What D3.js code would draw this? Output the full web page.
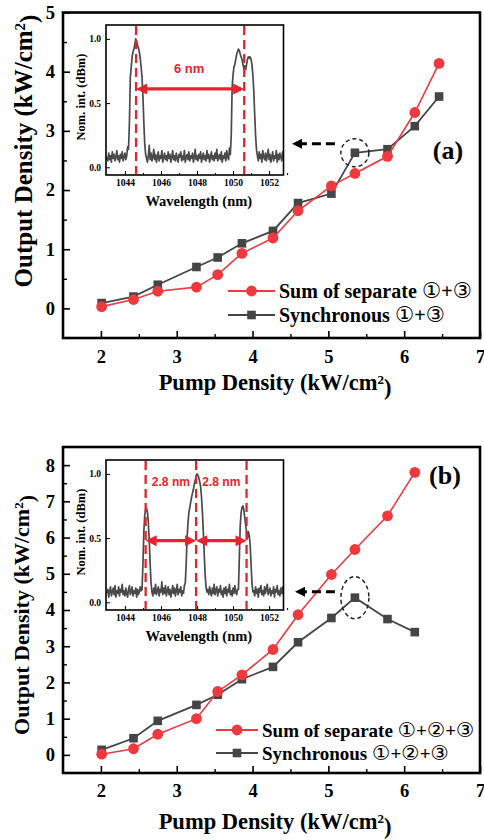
<!DOCTYPE html>
<html>
<head>
<meta charset="utf-8">
<script src="https://cdn.jsdelivr.net/npm/d3@7"></script>
<style>
  html, body { margin: 0; padding: 0; background: #fff; }
  svg { display: block; }
</style>
</head>
<body>
<svg id="fig" width="484" height="840"></svg>
<script>
// ---------- data ----------
// Panel (a): two-wavelength operation
const pumpA = [2.01, 2.43, 2.75, 3.26, 3.54, 3.86, 4.27, 4.60, 5.04, 5.35, 5.78, 6.14, 6.46];
const sumA  = [0.03, 0.15, 0.29, 0.36, 0.57, 0.93, 1.19, 1.65, 2.07, 2.28, 2.57, 3.31, 4.14];
const syncA = [0.09, 0.20, 0.40, 0.70, 0.86, 1.10, 1.31, 1.78, 1.94, 2.63, 2.69, 3.08, 3.58];

// Panel (b): three-wavelength operation
const pumpB = [2.01, 2.43, 2.75, 3.26, 3.54, 3.86, 4.27, 4.60, 5.04, 5.35, 5.78, 6.14];
const sumB  = [0.02, 0.17, 0.57, 1.00, 1.75, 2.21, 2.91, 3.87, 4.98, 5.67, 6.60, 7.80];
const syncB = [0.14, 0.46, 0.94, 1.38, 1.66, 2.09, 2.43, 3.11, 3.78, 4.34, 3.75, 3.39];

const xTicks  = [2, 3, 4, 5, 6, 7];
const yTicksA = [0, 1, 2, 3, 4, 5];
const yTicksB = [0, 1, 2, 3, 4, 5, 6, 7, 8];

const legendA = ["Sum of separate \u2460+\u2462", "Synchronous \u2460+\u2462"];
const legendB = ["Sum of separate \u2460+\u2461+\u2462", "Synchronous \u2460+\u2461+\u2462"];

// Inset spectra: normalised intensity sampled every 0.05 nm from 1043.00 nm
const wlStart = 1043.0, wlStep = 0.05;
const spectrumA = [
  .08,.05,.11,.06,.09,.04,.12,.07,.10,.05,.08,.13,.06,.09,.04,.10,.07,.12,.05,.08,.11,.06,.09,.16,
  .14,
  .35,.70,.78,.86,.90,.92,.96,1.0,.98,.95,.93,.90,.85,.78,.70,.55,.35,.18,
  .10,
  .07,.04,.09,.17,.06,.11,.05,.08,.14,.06,
  .10,.04,.08,.12,.05,.09,.07,.13,.04,.08,
  .11,.06,.09,.05,.12,.07,.10,.04,.08,.13,
  .06,.09,.05,.11,.07,.04,.10,.08,.12,.05,
  .09,.06,.13,.04,.08,.10,.06,.12,.05,.09,
  .07,.11,.04,.08,.14,.06,.09,.05,.10,.07,
  .12,.04,.08,.11,.06,.09,.05,.13,.07,.10,
  .04,.08,.12,.06,.09,.05,.11,.07,.14,.05,
  .08,.10,.06,.12,.04,.09,.07,.11,.05,.13,
  .08,.06,.15,.10,
  .25,
  .62,.72,.78,.80,.84,.88,.90,.92,.91,.88,.86,.84,.80,.77,.79,.76,.80,.84,.86,.85,.86,.84,.80,.72,.60,.42,.25,.14,
  .09,.05,.12,.07,.10,.04,.13,.08,.06,.11,
  .05,.09,.14,.06,.10,.04,.08,.12,.05,.09,
  .07,.13,.04,.10,.06,.11,.08,.05,.12,.07,
  .15,.06,.09
];
const spectrumB = [
  .07,.10,.04,.09,.12,.05,.08,.11,.06,.13,
  .04,.09,.07,.12,.05,.10,.08,.14,.06,.09,
  .05,.11,.07,.04,.10,.13,.06,.08,.12,.05,
  .09,.07,.11,.04,.10,.06,.08,.12,.09,
  .10,.30,.55,.68,.72,.73,.70,.62,.48,.30,.15,.08,
  .05,.11,.07,.14,.06,.09,.12,.05,.10,.08,
  .16,.06,.11,.07,.13,.05,.09,.12,.06,.10,
  .04,.08,.13,.07,.11,.05,.09,.14,.06,.10,
  .08,.12,.05,.09,.07,.13,
  .15,.30,.50,.62,.70,.74,.78,.82,.85,.88,.92,.95,.98,1.0,.99,.97,.94,.90,.82,.70,.55,.38,.22,.12,.08,
  .10,.06,.12,.08,.05,.11,.07,.14,.06,.09,
  .12,.05,.10,.08,.13,.06,.09,.04,.11,.07,
  .12,.05,.10,.08,.14,.06,.09,.05,.11,.07,
  .13,.08,.06,.10,
  .10,.35,.60,.70,.74,.75,.72,.66,.60,.55,.50,.55,.52,.45,.30,.15,.08,
  .09,.05,.12,.07,.10,.04,.11,.08,.13,.06,
  .09,.05,.12,.07,.10,.14,.06,.08,.11,.05,
  .09,.07,.12,.04,.10,.08,.13,.06,.09,.05,
  .11,.07,.12,.06,.10,.08,.12
];
const specXTicks = [1044, 1046, 1048, 1050, 1052];
const specYTicks = [0, 0.5, 1.0];
const peakLinesA = [1044.62, 1050.62];
const peakLinesB = [1045.15, 1047.95, 1050.75];
const spacingLabelsA = ["6 nm"];
const spacingLabelsB = ["2.8 nm", "2.8 nm"];

// ---------- styling ----------
const SERIF = "'Liberation Serif','Times New Roman',Times,serif";
const SANS = "'Liberation Sans',Arial,Helvetica,sans-serif";
const SYMBOL = "'DejaVu Sans','Noto Sans',sans-serif";
const RED = "#EE3A3F";
const GREY = "#454545";
const DASH_RED = "#E8232B";

const svg = d3.select("#fig");
svg.append("rect").attr("width", 484).attr("height", 840).attr("fill", "#fff");

function styleTickText(sel, size) {
  sel.selectAll("text")
    .style("font-family", SERIF).style("font-weight", "bold")
    .style("font-size", size + "px").attr("fill", "#000");
}

// legend strings: serif words, circled numerals set in a font with outlined glyphs
function writeRuns(textSel, str, size) {
  str.split(/([\u2460-\u2473])/).filter(s => s.length).forEach(run => {
    const isSym = /[\u2460-\u2473]/.test(run);
    textSel.append("tspan").text(run)
      .style("font-family", isSym ? SYMBOL : SERIF)
      .style("font-weight", isSym ? "normal" : "bold")
      .style("font-size", (isSym ? size * 1.08 : size) + "px");
  });
}

function drawPanel(cfg) {
  const g = svg.append("g");
  const x = d3.scaleLinear().domain([1.5, 7]).range([63, 480]);
  const y = d3.scaleLinear().domain(cfg.yDomain).range(cfg.yRange);
  const [bottom, top] = cfg.yRange;

  // axes (ticks pointing inward)
  const gx = g.append("g").attr("transform", `translate(0,${bottom})`)
    .call(d3.axisBottom(x).tickValues(xTicks).tickSize(-7).tickPadding(cfg.xTickPad).tickFormat(d3.format("d")));
  gx.select(".domain").remove();
  gx.selectAll("line").attr("stroke-width", 1.6);
  styleTickText(gx, 18.5);
  const gxm = g.append("g").attr("transform", `translate(0,${bottom})`)
    .call(d3.axisBottom(x).tickValues(xTicks.slice(0, -1).map(v => v + 0.5)).tickSize(-4).tickFormat(""));
  gxm.select(".domain").remove();
  gxm.selectAll("line").attr("stroke-width", 1.4);

  const gy = g.append("g").attr("transform", "translate(63,0)")
    .call(d3.axisLeft(y).tickValues(cfg.yTicks).tickSize(-7).tickPadding(8).tickFormat(d3.format("d")));
  gy.select(".domain").remove();
  gy.selectAll("line").attr("stroke-width", 1.6);
  styleTickText(gy, 18.5);
  const gym = g.append("g").attr("transform", "translate(63,0)")
    .call(d3.axisLeft(y).tickValues(cfg.yTicks.slice(0, -1).map(v => v + 0.5)).tickSize(-4).tickFormat(""));
  gym.select(".domain").remove();
  gym.selectAll("line").attr("stroke-width", 1.4);

  // frame
  g.append("rect").attr("x", 63).attr("y", top).attr("width", 417).attr("height", bottom - top)
    .attr("fill", "none").attr("stroke", "#000").attr("stroke-width", 2.6);

  // axis titles
  const xt = g.append("text").attr("x", 275).attr("y", cfg.xTitleY).attr("text-anchor", "middle")
    .style("font-family", SERIF).style("font-weight", "bold").style("font-size", "22.5px");
  xt.append("tspan").text("Pump Density (kW/cm");
  xt.append("tspan").attr("dy", "-0.5em").style("font-size", "13px").text("2");
  xt.append("tspan").attr("dy", "0.5em").text(")");

  const yt = g.append("text")
    .attr("transform", `translate(${cfg.yTitleX},${cfg.yTitleY}) rotate(-90)`)
    .attr("text-anchor", "middle")
    .style("font-family", SERIF).style("font-weight", "bold").style("font-size", cfg.yTitleSize + "px");
  yt.append("tspan").text("Output Density (kW/cm");
  yt.append("tspan").attr("dy", "-0.5em").style("font-size", Math.round(cfg.yTitleSize * 0.6) + "px").text("2");
  yt.append("tspan").attr("dy", "0.5em").text(")");

  // series
  const line = d3.line().x(d => x(d[0])).y(d => y(d[1]));
  const syncPts = d3.zip(cfg.pump, cfg.sync);
  const sumPts = d3.zip(cfg.pump, cfg.sum);
  g.append("path").datum(syncPts).attr("d", line).attr("fill", "none").attr("stroke", GREY).attr("stroke-width", 1.8);
  g.selectAll(null).data(syncPts).join("rect")
    .attr("x", d => x(d[0]) - 4.3).attr("y", d => y(d[1]) - 4.3)
    .attr("width", 8.6).attr("height", 8.6).attr("fill", GREY);
  g.append("path").datum(sumPts).attr("d", line).attr("fill", "none").attr("stroke", RED).attr("stroke-width", 1.6);
  g.selectAll(null).data(sumPts).join("circle")
    .attr("cx", d => x(d[0])).attr("cy", d => y(d[1])).attr("r", 5.4).attr("fill", RED);

  // legend
  const lg = cfg.legend;
  [[RED, "circle"], [GREY, "square"]].forEach(([col, shape], i) => {
    const ly = lg.y + i * lg.dy;
    g.append("line").attr("x1", lg.x0).attr("x2", lg.x1).attr("y1", ly).attr("y2", ly)
      .attr("stroke", col).attr("stroke-width", 1.8);
    const mx = (lg.x0 + lg.x1) / 2;
    if (shape === "circle") g.append("circle").attr("cx", mx).attr("cy", ly).attr("r", 5.4).attr("fill", col);
    else g.append("rect").attr("x", mx - 4.3).attr("y", ly - 4.3).attr("width", 8.6).attr("height", 8.6).attr("fill", col);
    const t = g.append("text").attr("x", lg.x1 + 4).attr("y", ly + 7);
    writeRuns(t, cfg.legendText[i], lg.size);
  });

  // panel label
  g.append("text").attr("x", cfg.label.x).attr("y", cfg.label.y).attr("text-anchor", "middle")
    .text(cfg.label.text)
    .style("font-family", SERIF).style("font-weight", "bold").style("font-size", "26px");

  // highlighted point and pointer to the inset
  const hp = syncPts[cfg.highlight.index];
  const cx = x(hp[0]), cy = y(hp[1]);
  g.append("ellipse").attr("cx", cx).attr("cy", cy).attr("rx", cfg.highlight.rx).attr("ry", cfg.highlight.ry)
    .attr("fill", "none").attr("stroke", "#222").attr("stroke-width", 1.5).attr("stroke-dasharray", "4,3");
  const ay = cy + cfg.highlight.arrowDy;
  const tipX = cfg.inset.x1 + cfg.highlight.tipGap;
  g.append("line").attr("x1", cx - 20).attr("x2", tipX + 8).attr("y1", ay).attr("y2", ay)
    .attr("stroke", "#000").attr("stroke-width", 3).attr("stroke-dasharray", "9,5");
  g.append("path").attr("d", `M${tipX},${ay}L${tipX + 10},${ay - 5}L${tipX + 10},${ay + 5}Z`).attr("fill", "#000");

  drawInset(g, cfg.inset);
}

function drawInset(parent, c) {
  const g = parent.append("g");
  const sx = d3.scaleLinear().domain([1042.95, 1052.8]).range([c.x0, c.x1]);
  const sy = d3.scaleLinear().domain([-0.06, 1.108]).range([c.y1, c.y0]);
  const clipId = "clip" + c.id;

  g.append("rect").attr("x", c.x0).attr("y", c.y0).attr("width", c.x1 - c.x0).attr("height", c.y1 - c.y0).attr("fill", "#fff");
  g.append("clipPath").attr("id", clipId).append("rect")
    .attr("x", c.x0).attr("y", c.y0).attr("width", c.x1 - c.x0).attr("height", c.y1 - c.y0);

  const pts = c.spectrum.map((v, i) => [wlStart + i * wlStep, v]);
  g.append("path").datum(pts).attr("clip-path", `url(#${clipId})`)
    .attr("d", d3.line().x(d => sx(d[0])).y(d => sy(d[1])))
    .attr("fill", "none").attr("stroke", "#4a4a4a").attr("stroke-width", 1.7).attr("stroke-linejoin", "round");

  // marker lines at the emission peaks
  g.selectAll(null).data(c.lines).join("line")
    .attr("x1", d => sx(d)).attr("x2", d => sx(d)).attr("y1", c.y0 + 1).attr("y2", c.y1 - 1)
    .attr("stroke", DASH_RED).attr("stroke-width", 2.3).attr("stroke-dasharray", "9,5");

  // double-headed spacing arrows with labels
  const ay = sy(c.arrowLevel);
  for (let i = 0; i < c.lines.length - 1; i++) {
    const a = sx(c.lines[i]), b = sx(c.lines[i + 1]);
    g.append("line").attr("x1", a + 8).attr("x2", b - 8).attr("y1", ay).attr("y2", ay)
      .attr("stroke", DASH_RED).attr("stroke-width", 3.2);
    g.append("path").attr("d", `M${a},${ay}L${a + 11},${ay - 5.5}L${a + 11},${ay + 5.5}Z`).attr("fill", DASH_RED);
    g.append("path").attr("d", `M${b},${ay}L${b - 11},${ay - 5.5}L${b - 11},${ay + 5.5}Z`).attr("fill", DASH_RED);
    g.append("text").attr("x", (a + b) / 2 + c.labelDx).attr("y", c.y0 + c.labelDy).attr("text-anchor", "middle")
      .text(c.labels[i]).attr("fill", DASH_RED)
      .style("font-family", SANS).style("font-weight", "bold").style("font-size", c.labelSize + "px");
  }

  // ticks
  const gx = g.append("g").attr("transform", `translate(0,${c.y1})`)
    .call(d3.axisBottom(sx).tickValues(specXTicks).tickSize(-4).tickPadding(4).tickFormat(d3.format("d")));
  gx.select(".domain").remove();
  styleTickText(gx, 9.5);
  const gxm = g.append("g").attr("transform", `translate(0,${c.y1})`)
    .call(d3.axisBottom(sx).tickValues(specXTicks.map(v => v + 1)).tickSize(-2).tickFormat(""));
  gxm.select(".domain").remove();
  const gy = g.append("g").attr("transform", `translate(${c.x0},0)`)
    .call(d3.axisLeft(sy).tickValues(specYTicks).tickSize(-4).tickPadding(5).tickFormat(d3.format(".1f")));
  gy.select(".domain").remove();
  styleTickText(gy, 9.5);

  g.append("rect").attr("x", c.x0).attr("y", c.y0).attr("width", c.x1 - c.x0).attr("height", c.y1 - c.y0)
    .attr("fill", "none").attr("stroke", "#000").attr("stroke-width", 1.6);

  g.append("text").attr("x", (c.x0 + c.x1) / 2 + 4).attr("y", c.y1 + 31).attr("text-anchor", "middle")
    .text("Wavelength (nm)")
    .style("font-family", SERIF).style("font-weight", "bold").style("font-size", "14.5px");
  g.append("text").attr("transform", `translate(${c.x0 - 21},${(c.y0 + c.y1) / 2 - 3}) rotate(-90)`)
    .attr("text-anchor", "middle").text("Nom. int. (dBm)")
    .style("font-family", SERIF).style("font-weight", "bold").style("font-size", "12.5px");
}

drawPanel({
  yDomain: [-0.5, 5], yRange: [338, 12.5], yTicks: yTicksA,
  pump: pumpA, sum: sumA, sync: syncA,
  xTickPad: 12, xTitleY: 390,
  yTitleX: 32, yTitleY: 151, yTitleSize: 25,
  legend: { x0: 228, x1: 275, y: 291, dy: 24, size: 20 }, legendText: legendA,
  label: { text: "(a)", x: 448, y: 159 },
  highlight: { index: 9, rx: 14, ry: 14, arrowDy: -9, tipGap: 8.5 },
  inset: { id: "a", x0: 106, x1: 283.5, y0: 25, y1: 175, spectrum: spectrumA, lines: peakLinesA,
           arrowLevel: 0.61, labels: spacingLabelsA, labelDy: 48, labelDx: -1, labelSize: 13 }
});

drawPanel({
  yDomain: [-0.5, 8.5], yRange: [773, 447], yTicks: yTicksB,
  pump: pumpB, sum: sumB, sync: syncB,
  xTickPad: 11, xTitleY: 829,
  yTitleX: 29, yTitleY: 615, yTitleSize: 22,
  legend: { x0: 216, x1: 258, y: 730, dy: 23, size: 19 }, legendText: legendB,
  label: { text: "(b)", x: 445, y: 484 },
  highlight: { index: 9, rx: 14, ry: 21, arrowDy: -6, tipGap: 11.5 },
  inset: { id: "b", x0: 106, x1: 283.5, y0: 460, y1: 610, spectrum: spectrumB, lines: peakLinesB,
           arrowLevel: 0.48, labels: spacingLabelsB, labelDy: 26, labelDx: 0, labelSize: 12 }
});
</script>
</body>
</html>
